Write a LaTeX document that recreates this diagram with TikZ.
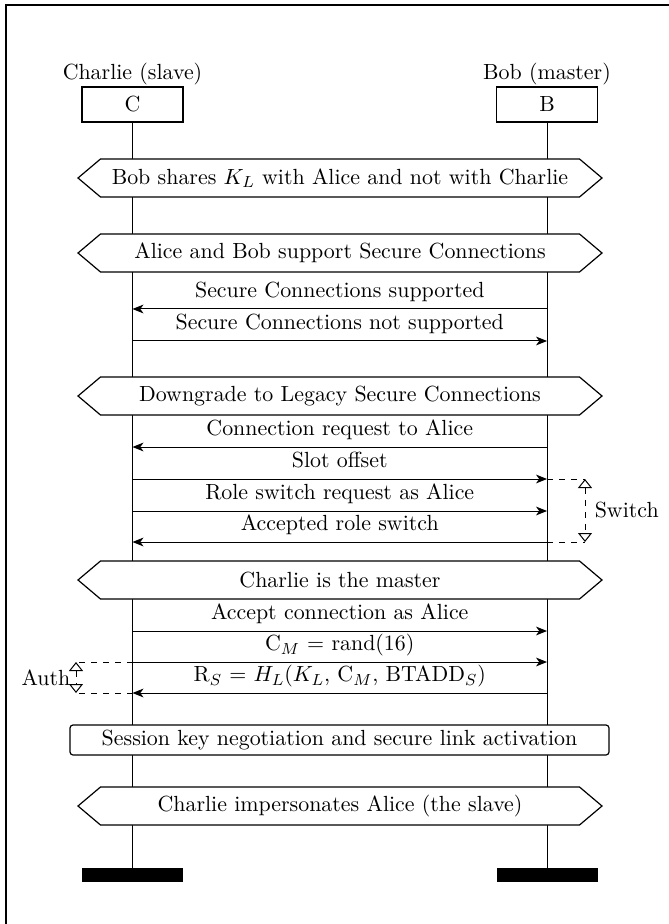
\documentclass[tikz,border=0pt,11pt]{standalone}
\usetikzlibrary{arrows.meta}
\usetikzlibrary{positioning}

\tikzset{
  headbox/.style={draw, line width=0.6pt, minimum width=50.5pt, minimum height=17.5pt, inner sep=0pt},
  footbar/.style={fill=black, minimum width=50.5pt, minimum height=7pt, inner sep=0pt},
  lifeline/.style={line width=0.5pt},
  msg/.style={line width=0.5pt, -{Stealth[length=5.5pt,width=4.4pt,inset=1.6pt]}},
  msglabel/.style={above, inner sep=2.6pt, text depth=2.75pt},
  condbox/.style={draw, line width=0.6pt, fill=white},
  actionbox/.style={draw, line width=0.6pt, fill=white, rounded corners=1.5pt, minimum width=269.5pt, minimum height=15pt, inner sep=0pt},
  measureline/.style={dashed, line width=0.5pt},
  measurearrow/.style={dashed, line width=0.5pt, {Triangle[open,length=4.5pt,width=7pt]}-{Triangle[open,length=4.5pt,width=7pt]}}
}

% Bedingung als Sechseck: Name, Hoehe, Text
\newcommand{\condition}[3]{%
  \draw[condbox] (78,#2) -- (100.5,#2-19) -- (579.5,#2-19) -- (602,#2)
    -- (579.5,#2+19) -- (100.5,#2+19) -- cycle;
  \node (#1) at (340,#2) {#3};
}

\begin{document}
\begin{tikzpicture}[x=0.5pt, y=-0.5pt]
\useasboundingbox (0,0) rectangle (668,924);

% Rahmen
\draw[line width=0.7pt] (6,5) rectangle (720,980);

% Instanzen
\node[headbox] (C) at (132.5,104.5) {C};
\node[headbox] (B) at (547,104.5) {B};
\node[above=-3pt of C] (Clabel) {Charlie (slave)};
\node[above=-3pt of B] (Blabel) {Bob (master)};
\node[footbar] (Cf) at (132.5,875) {};
\node[footbar] (Bf) at (547,875) {};
\draw[lifeline] (C.south) -- (Cf.north);
\draw[lifeline] (B.south) -- (Bf.north);

% Bedingungen
\condition{cond1}{178}{Bob shares $K_L$ with Alice and not with Charlie}
\condition{cond2}{253}{Alice and Bob support Secure Connections}
\condition{cond3}{396}{Downgrade to Legacy Secure Connections}
\condition{cond4}{580}{Charlie is the master}
\condition{cond5}{806}{Charlie impersonates Alice (the slave)}

% Punkte auf den Lebenslinien
\coordinate (c1) at (C |- 0,309);  \coordinate (b1) at (B |- 0,309);
\coordinate (c2) at (C |- 0,341);  \coordinate (b2) at (B |- 0,341);
\coordinate (c3) at (C |- 0,447);  \coordinate (b3) at (B |- 0,447);
\coordinate (c4) at (C |- 0,479);  \coordinate (b4) at (B |- 0,479);
\coordinate (c5) at (C |- 0,511);  \coordinate (b5) at (B |- 0,511);
\coordinate (c6) at (C |- 0,542);  \coordinate (b6) at (B |- 0,542);
\coordinate (c7) at (C |- 0,631);  \coordinate (b7) at (B |- 0,631);
\coordinate (c8) at (C |- 0,662);  \coordinate (b8) at (B |- 0,662);
\coordinate (c9) at (C |- 0,693);  \coordinate (b9) at (B |- 0,693);

% Nachrichten
\draw[msg] (b1) -- node[msglabel] {Secure Connections supported} (c1);
\draw[msg] (c2) -- node[msglabel] {Secure Connections not supported} (b2);
\draw[msg] (b3) -- node[msglabel] {Connection request to Alice} (c3);
\draw[msg] (c4) -- node[msglabel] {Slot offset} (b4);
\draw[msg] (c5) -- node[msglabel] {Role switch request as Alice} (b5);
\draw[msg] (b6) -- node[msglabel] {Accepted role switch} (c6);
\draw[msg] (c7) -- node[msglabel] {Accept connection as Alice} (b7);
\draw[msg] (c8) -- node[msglabel] {C$_M$ = rand(16)} (b8);
\draw[msg] (b9) -- node[msglabel] {R$_S$ = $H_L$($K_L$, C$_M$, BTADD$_S$)} (c9);

% Messungen
\coordinate (sw1) at (585,479);
\coordinate (sw2) at (585,542);
\draw[measureline] (b4) -- (sw1);
\draw[measureline] (b6) -- (sw2);
\draw[measurearrow] (sw1) -- node[right=1pt] {Switch} (sw2);

\coordinate (au1) at (76,662);
\coordinate (au2) at (76,693);
\draw[measureline] (c8) -- (au1);
\draw[measureline] (c9) -- (au2);
\draw[measurearrow] (au1) -- node[left=-1pt] {Auth} (au2);

% Aktion
\node[actionbox] (act) at (339.5,740) {Session key negotiation and secure link activation};

\end{tikzpicture}
\end{document}
